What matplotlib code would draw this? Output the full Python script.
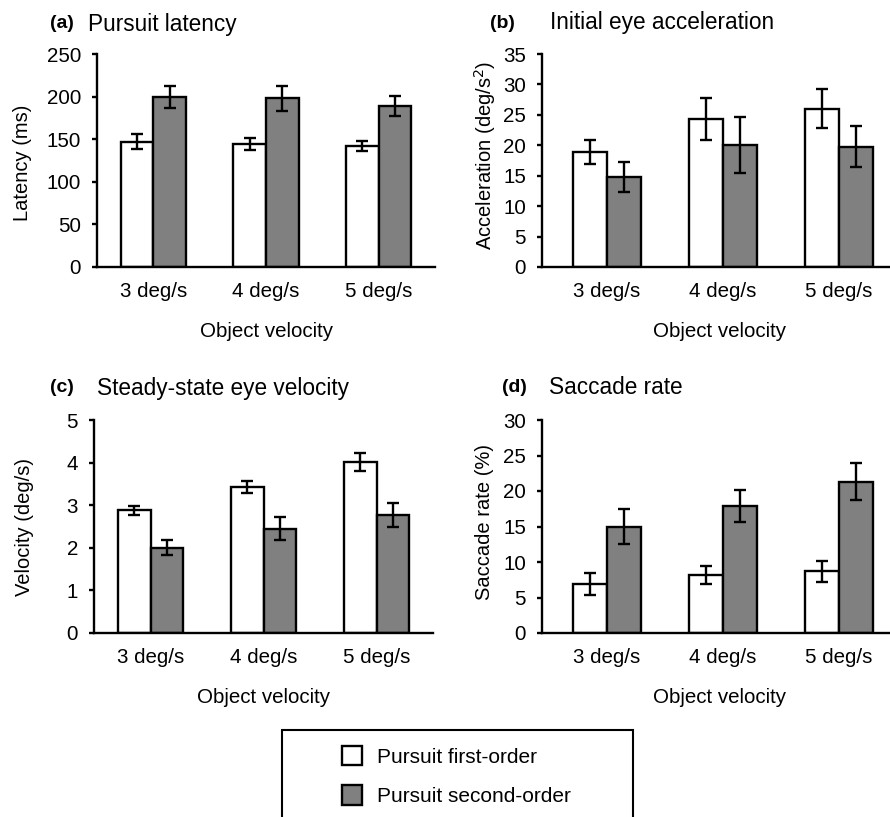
import matplotlib
matplotlib.use("Agg")
import matplotlib.pyplot as plt
from matplotlib.patches import Rectangle, Patch
import numpy as np

plt.rcParams['font.family'] = ['Liberation Sans', 'DejaVu Sans']

categories = ["3 deg/s", "4 deg/s", "5 deg/s"]
series_names = ["Pursuit first-order", "Pursuit second-order"]

latency_first = [147, 144.5, 142]
latency_first_err = [9, 7, 6]
latency_second = [200, 198, 189]
latency_second_err = [13, 15, 12]

accel_first = [18.9, 24.3, 26.0]
accel_first_err = [2.0, 3.4, 3.2]
accel_second = [14.8, 20.1, 19.8]
accel_second_err = [2.4, 4.6, 3.3]

velocity_first = [2.88, 3.42, 4.02]
velocity_first_err = [0.11, 0.14, 0.21]
velocity_second = [2.0, 2.45, 2.78]
velocity_second_err = [0.18, 0.27, 0.28]

saccade_first = [6.9, 8.2, 8.7]
saccade_first_err = [1.5, 1.3, 1.5]
saccade_second = [15.0, 17.9, 21.3]
saccade_second_err = [2.4, 2.3, 2.6]

W, H = 890, 817
fig = plt.figure(figsize=(W / 100, H / 100), dpi=100)

GRAY = "#808080"
LW = 1.7
FS = 14.8


def px_axes(left, top, right, bottom):
    return fig.add_axes([left / W, 1 - bottom / H, (right - left) / W, (bottom - top) / H])


def panel(ax, first, first_err, second, second_err, ylim, yticks, ylabel, ylabel_xy,
          letter, title, letter_xy, title_x, xlim=(0, 3)):
    x = np.arange(len(categories)) + 0.5
    bw = 0.29
    ax.bar(x - bw / 2, first, bw, color="white", edgecolor="black", linewidth=LW, zorder=2)
    ax.bar(x + bw / 2, second, bw, color=GRAY, edgecolor="black", linewidth=LW, zorder=2)
    ekw = dict(fmt="none", ecolor="black", elinewidth=LW, capsize=4, capthick=LW, zorder=3)
    ax.errorbar(x - bw / 2, first, yerr=first_err, **ekw)
    ax.errorbar(x + bw / 2, second, yerr=second_err, **ekw)
    ax.set_xlim(*xlim)
    ax.set_ylim(*ylim)
    ax.set_yticks(yticks)
    ax.set_xticks(x)
    ax.set_xticklabels(categories, fontsize=FS)
    ax.tick_params(axis="x", length=0, pad=11)
    ax.tick_params(axis="y", length=3.6, width=LW, labelsize=FS, pad=8)
    for s in ("top", "right"):
        ax.spines[s].set_visible(False)
    for s in ("left", "bottom"):
        ax.spines[s].set_linewidth(LW)
    ax.set_xlabel("Object velocity", fontsize=FS, labelpad=15)
    fig.text(ylabel_xy[0] / W, 1 - ylabel_xy[1] / H, ylabel, fontsize=14.5,
             rotation=90, ha="center", va="center")
    fig.text(letter_xy[0] / W, 1 - letter_xy[1] / H, letter, fontsize=14,
             fontweight="bold", va="center", ha="left")
    fig.text(title_x / W, 1 - letter_xy[1] / H, title, fontsize=16.3,
             va="center", ha="left")


ax_a = px_axes(97, 54, 435, 267)
panel(ax_a, latency_first, latency_first_err, latency_second, latency_second_err,
      (0, 250), range(0, 251, 50), "Latency (ms)", (23, 163), "(a)", "Pursuit latency",
      (50, 24), 88)

ax_b = px_axes(542, 54, 897, 267)
panel(ax_b, accel_first, accel_first_err, accel_second, accel_second_err,
      (0, 35), range(0, 36, 5), "Acceleration (deg/s$^2$)", (485, 155), "(b)",
      "Initial eye acceleration", (490, 23), 550, xlim=(-0.06, 3.0))

ax_c = px_axes(94, 420, 433, 633)
panel(ax_c, velocity_first, velocity_first_err, velocity_second, velocity_second_err,
      (0, 5), range(0, 6), "Velocity (deg/s)", (24, 527), "(c)",
      "Steady-state eye velocity", (50, 388), 97)

ax_d = px_axes(542, 420, 897, 633)
panel(ax_d, saccade_first, saccade_first_err, saccade_second, saccade_second_err,
      (0, 30), range(0, 31, 5), "Saccade rate (%)", (485, 522), "(d)", "Saccade rate",
      (502, 388), 549, xlim=(-0.06, 3.0))

# legend box, open at the bottom edge of the figure
fig.patches.append(Rectangle((282 / W, -0.02), (633 - 282) / W, (1 - 730 / H) + 0.02,
                             transform=fig.transFigure, facecolor="white",
                             edgecolor="black", linewidth=1.5, zorder=0))
handles = [Patch(facecolor="white", edgecolor="black", linewidth=LW),
           Patch(facecolor=GRAY, edgecolor="black", linewidth=LW)]
fig.legend(handles, series_names, loc="upper left",
           bbox_to_anchor=(323 / W, 1 - 727 / H), frameon=False, fontsize=15,
           handlelength=0.95, handleheight=1.05, handletextpad=0.75, labelspacing=0.9)

fig.savefig("out.png", dpi=100)
